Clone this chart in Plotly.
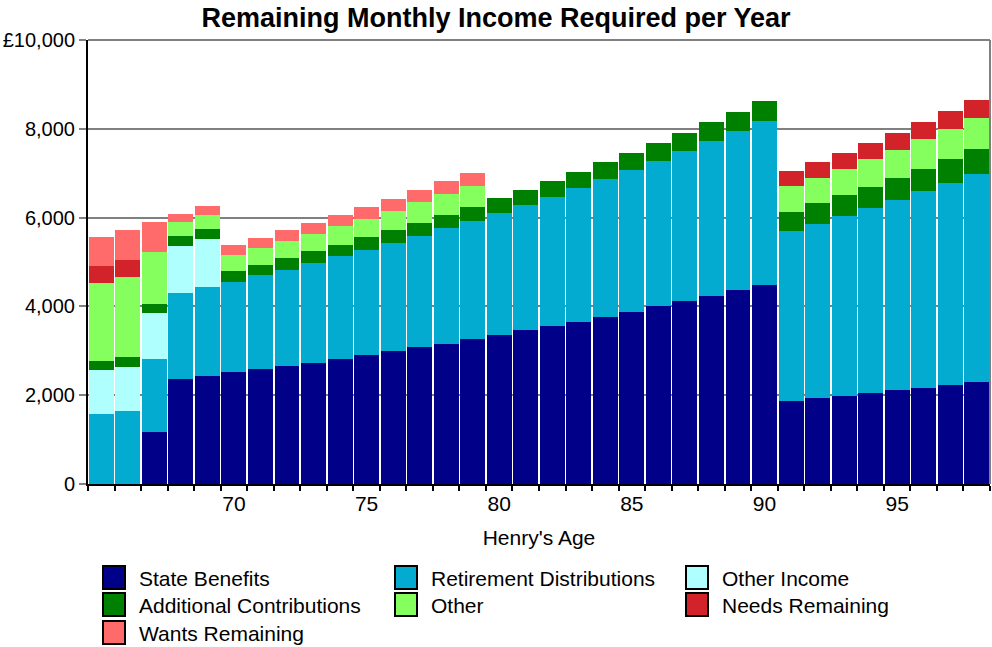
import plotly.graph_objects as go

# Ages shown on the x axis
ages = list(range(65, 99))

# Monthly income sources / remaining requirement per age (GBP)
state_benefits = [0, 0, 1170, 2365, 2430, 2525, 2590, 2660, 2725, 2815,
                  2905, 2995, 3085, 3155, 3265, 3355, 3470, 3560, 3650, 3760,
                  3875, 4010, 4120, 4235, 4370, 4480, 1870, 1935, 1980, 2050,
                  2115, 2160, 2230, 2295]
retirement_distributions = [1575, 1645, 1645, 1935, 2005, 2025, 2115, 2160, 2250, 2320,
                            2365, 2435, 2500, 2610, 2655, 2750, 2815, 2905, 3020, 3110,
                            3200, 3265, 3380, 3490, 3580, 3695, 3830, 3920, 4055, 4165,
                            4280, 4435, 4550, 4685]
other_income = [990, 990, 1035, 1060, 1080] + [0] * 29
additional_contributions = [200, 225, 205, 225, 225, 245, 225, 270, 270, 250,
                            295, 295, 290, 295, 315, 335, 340, 360, 360, 385,
                            385, 405, 405, 430, 430, 450, 430, 475, 475, 475,
                            495, 495, 540, 565]
other = [1755, 1800, 1170, 315, 315, 360, 385, 385, 385, 430,
         405, 430, 475, 475, 475] + [0] * 11 + [585, 565, 585, 630, 630, 675, 675, 700]
needs_remaining = [385, 385] + [0] * 24 + [340, 360, 360, 360, 380, 385, 405, 405]
wants_remaining = [655, 675, 675, 180, 200, 225, 225, 250, 245, 250,
                   270, 270, 270, 290, 295] + [0] * 19

series_names = ["State Benefits", "Retirement Distributions", "Other Income",
                "Additional Contributions", "Other", "Needs Remaining",
                "Wants Remaining"]
series_values = [state_benefits, retirement_distributions, other_income,
                 additional_contributions, other, needs_remaining, wants_remaining]
series_colors = ["#000088", "#03ABD0", "#B0FFFF", "#008000", "#85FF5D",
                 "#D2232A", "#FF6B6B"]

# Labelled ages on the x axis
age_labels = [70, 75, 80, 85, 90, 95]

y_ticks = [0, 2000, 4000, 6000, 8000, 10000]
y_tick_text = ["0", "2,000", "4,000", "6,000", "8,000", "£10,000"]

FONT = "Liberation Sans, Arial, sans-serif"
TXT = 21
W, H = 992, 647
L, R, T, B = 88, 2, 40, 163
PW, PH = W - L - R, H - T - B

x_cats = [str(a) for a in ages]

fig = go.Figure()
for name, vals, col in zip(series_names, series_values, series_colors):
    fig.add_trace(go.Bar(
        x=x_cats, y=vals, name=name,
        marker=dict(color=col, line=dict(width=0)),
        showlegend=False,
        hovertemplate="Age %{x}<br>" + name + ": £%{y:,}<extra></extra>",
    ))


def px_to_paper(px, py):
    return (px - L) / PW, (H - B - py) / PH


shapes = []
annotations = []

# Grey frame on top and right of the plotting area
shapes.append(dict(type="line", xref="paper", yref="paper", x0=0, x1=1, y0=1, y1=1,
                   line=dict(color="#808080", width=2)))
shapes.append(dict(type="line", xref="paper", yref="paper", x0=1, x1=1, y0=0, y1=1,
                   line=dict(color="#808080", width=2)))

# Legend: three columns of swatches with labels
col_x = [103, 395, 686]
row_y = [566, 593, 621]
sw_w, sw_h = 22, 23
for i, (name, col) in enumerate(zip(series_names, series_colors)):
    cx = col_x[i % 3]
    ry = row_y[i // 3]
    x0, y0 = px_to_paper(cx, ry + sw_h)
    x1, y1 = px_to_paper(cx + sw_w, ry)
    shapes.append(dict(type="rect", xref="paper", yref="paper",
                       x0=x0, x1=x1, y0=y0, y1=y1,
                       fillcolor=col, line=dict(color="black", width=2)))
    tx, ty = px_to_paper(cx + 34, ry + sw_h / 2 + 1)
    annotations.append(dict(xref="paper", yref="paper", x=tx, y=ty, text=name,
                            showarrow=False, xanchor="left", yanchor="middle",
                            font=dict(family=FONT, size=TXT, color="black")))

fig.update_layout(
    width=W, height=H,
    margin=dict(l=L, r=R, t=T, b=B, pad=0),
    paper_bgcolor="white", plot_bgcolor="white",
    barmode="stack", bargap=0.06,
    font=dict(family=FONT, size=TXT, color="black"),
    title=dict(text="<b>Remaining Monthly Income Required per Year</b>",
               x=0.5, xanchor="center", y=1 - 18 / H, yanchor="middle",
               font=dict(family=FONT, size=27, color="black")),
    xaxis=dict(
        type="category",
        tickmode="array", tickvals=x_cats,
        ticktext=[str(a) if a in age_labels else "" for a in ages],
        tickangle=0,
        tickson="boundaries",
        ticks="outside", ticklen=5, tickwidth=2, tickcolor="black",
        showline=True, linecolor="black", linewidth=2,
        showgrid=False, zeroline=False,
        automargin=False,
        tickfont=dict(family=FONT, size=TXT),
        title=dict(text="Henry's Age", standoff=16,
                   font=dict(family=FONT, size=TXT)),
    ),
    yaxis=dict(
        range=[0, 10000],
        tickmode="array", tickvals=y_ticks, ticktext=y_tick_text,
        ticks="outside", ticklen=7, tickwidth=2, tickcolor="#808080",
        showline=True, linecolor="black", linewidth=2,
        showgrid=True, gridcolor="#808080", gridwidth=2,
        zeroline=False,
        automargin=False,
        tickfont=dict(family=FONT, size=20),
    ),
    shapes=shapes,
    annotations=annotations,
)

fig.write_html("out.html")
